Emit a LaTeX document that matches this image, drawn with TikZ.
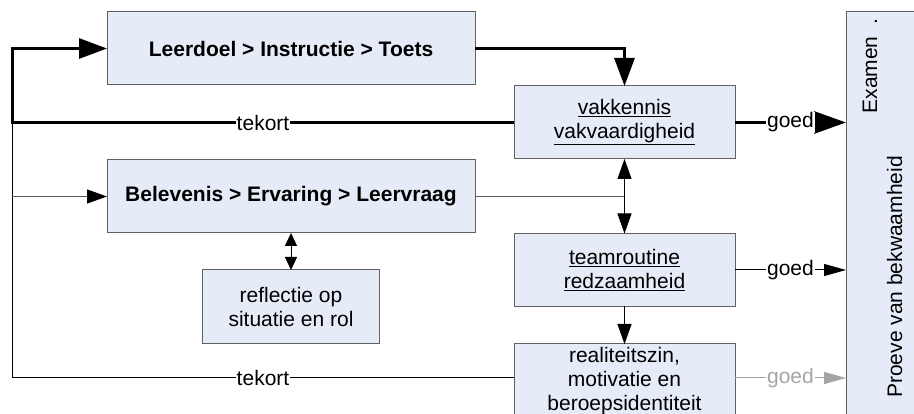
\documentclass[tikz,border=0pt]{standalone}
\usepackage{fontspec}
\setmainfont{Liberation Sans}
\usetikzlibrary{arrows.meta}
\definecolor{boxfill}{RGB}{230,236,247}
\definecolor{boxline}{RGB}{96,96,96}
\definecolor{linegray}{RGB}{90,90,90}
\definecolor{goedgray}{RGB}{165,165,165}

\begin{document}
\begin{tikzpicture}[x=1pt, y=-1pt,
  every node/.style={font=\fontsize{21}{24}\selectfont},
  box/.style={draw=boxline, fill=boxfill, line width=1pt, align=center, outer sep=0pt, inner sep=2pt},
  widebox/.style={box, font=\fontsize{21}{24}\selectfont\bfseries, minimum width=368pt, minimum height=73pt},
  stagebox/.style={box, minimum width=221pt, minimum height=73pt},
  thickline/.style={line width=3pt, black},
  thinline/.style={line width=1pt, black},
  grayline/.style={line width=1pt, linegray},
  lbl/.style={fill=white, inner sep=1pt},
  tipL/.tip={Triangle[length=28pt, width=20pt]},
  tipM/.tip={Triangle[length=20pt, width=14pt]},
  tipS/.tip={Triangle[length=13pt, width=12pt]}]
  \useasboundingbox (0,0) rectangle (914,414);
  \clip (0,0) rectangle (914,414);
  \fill[white] (0,0) rectangle (914,414);

  \node[widebox] (leerdoel) at (291,48.5) {Leerdoel > Instructie > Toets};
  \node[widebox] (belevenis) at (291,196.5) {Belevenis > Ervaring > Leervraag};
  \node[box, minimum width=177pt, minimum height=74pt] (reflectie) at (291,307) {reflectie op\\situatie en rol};
  \node[stagebox] (vakkennis) at (624.5,122.5) {\underline{vakkennis}\\\underline{vakvaardigheid}};
  \node[stagebox] (teamroutine) at (624.5,270) {\underline{teamroutine}\\\underline{redzaamheid}};
  \node[stagebox, minimum height=74pt] (realiteit) at (624.5,381) {realiteitszin,\\motivatie en\\beroepsidentiteit};
  \node[box, minimum width=94pt, minimum height=428pt] (proeve) at (893,226) {};
  \node[rotate=90, anchor=base] (examen) at (877,66) {Examen\hspace{12pt}.};
  \node[rotate=90, anchor=base] (proevetxt) at (902,277) {Proeve van bekwaamheid};

  \coordinate (tl) at (12,122.5);
  \coordinate (bl) at (12,378);
  \coordinate (split) at (tl |- belevenis.west);

  \draw[thickline, -{tipL}] (leerdoel.east) -| (vakkennis.north);
  \draw[thickline, -{tipL}] (vakkennis.west) -- node[lbl] {tekort} (tl) |- (leerdoel.west);
  \draw[thinline] ([yshift=3pt]realiteit.west) -- node[lbl] {tekort} (bl) -- (tl);
  \draw[grayline, -{Triangle[length=20pt, width=14pt, black]}] (split) -- (belevenis.west);
  \draw[grayline] (belevenis.east) -- (belevenis.east -| vakkennis.south);
  \draw[thinline, {tipM}-{tipM}] (vakkennis.south) -- (teamroutine.north);
  \draw[thinline, {tipS}-{tipS}] (belevenis.south) -- (reflectie.north);
  \draw[thinline, -{tipM}] (teamroutine.south) -- (realiteit.north);

  \draw[thickline, -{Triangle[length=32pt, width=22pt]}] (vakkennis.east) -- node[lbl] {goed} (vakkennis.east -| proeve.west);
  \draw[thinline, -{Triangle[length=22pt, width=12pt]}] (teamroutine.east) -- node[lbl] {goed} (teamroutine.east -| proeve.west);
  \draw[thinline, goedgray, -{Triangle[length=22pt, width=12pt]}] ([yshift=3pt]realiteit.east) -- node[lbl, text=goedgray] {goed} ([yshift=3pt]realiteit.east -| proeve.west);
\end{tikzpicture}
\end{document}
